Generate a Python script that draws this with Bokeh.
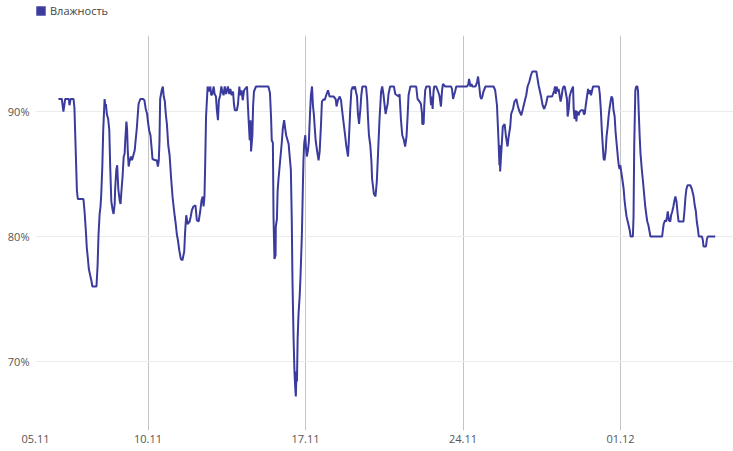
from bokeh.plotting import figure
from bokeh.layouts import column
from bokeh.models import (Range1d, FixedTicker, Legend, LegendItem, ColumnDataSource)
from bokeh.embed import file_html
from bokeh.resources import INLINE

# ---- data: time in days of November (01.12 = day 31), relative humidity in % ----
days = [
    6.02, 6.17, 6.24, 6.32, 6.48, 6.51, 6.56, 6.69, 6.73, 6.76, 6.81, 6.84, 6.88, 7.13, 7.18,
    7.24, 7.28, 7.33, 7.37, 7.43, 7.48, 7.53, 7.71, 7.76, 7.80, 7.85, 7.89, 7.92, 7.97, 8.01,
    8.07, 8.11, 8.13, 8.17, 8.23, 8.28, 8.32, 8.37, 8.43, 8.47, 8.52, 8.54, 8.59, 8.63, 8.68,
    8.74, 8.78, 8.81, 8.87, 8.92, 8.96, 8.99, 9.04, 9.07, 9.10, 9.14, 9.18, 9.24, 9.29, 9.35,
    9.41, 9.45, 9.50, 9.54, 9.58, 9.66, 9.78, 9.84, 9.90, 9.96, 9.99, 10.05, 10.11, 10.15, 10.20,
    10.32, 10.39, 10.44, 10.48, 10.51, 10.54, 10.61, 10.66, 10.70, 10.75, 10.79, 10.84, 10.90, 10.96, 11.03,
    11.09, 11.15, 11.19, 11.24, 11.28, 11.33, 11.39, 11.46, 11.53, 11.61, 11.65, 11.70, 11.76, 11.85, 11.90,
    11.95, 12.02, 12.11, 12.17, 12.25, 12.32, 12.38, 12.43, 12.47, 12.51, 12.54, 12.58, 12.65, 12.72, 12.77,
    12.81, 12.86, 12.92, 12.96, 13.02, 13.06, 13.11, 13.15, 13.21, 13.26, 13.30, 13.36, 13.41, 13.47, 13.51,
    13.55, 13.61, 13.66, 13.72, 13.78, 13.82, 13.86, 13.95, 14.00, 14.06, 14.10, 14.16, 14.21, 14.27, 14.40,
    14.47, 14.52, 14.56, 14.58, 14.64, 14.67, 14.71, 14.80, 15.35, 15.42, 15.47, 15.50, 15.55, 15.58, 15.62,
    15.67, 15.68, 15.73, 15.76, 15.80, 15.87, 15.95, 15.99, 16.05, 16.10, 16.14, 16.25, 16.35, 16.39, 16.42,
    16.47, 16.51, 16.54, 16.57, 16.60, 16.62, 16.65, 16.69, 16.74, 16.78, 16.84, 16.88, 16.91, 16.94, 16.99,
    17.02, 17.06, 17.11, 17.15, 17.20, 17.24, 17.29, 17.33, 17.37, 17.45, 17.52, 17.58, 17.63, 17.69, 17.73,
    17.81, 17.85, 17.92, 18.00, 18.07, 18.25, 18.34, 18.38, 18.44, 18.52, 18.58, 18.62, 18.70, 18.76, 18.81,
    18.89, 18.93, 18.99, 19.04, 19.10, 19.14, 19.20, 19.24, 19.29, 19.33, 19.38, 19.44, 19.48, 19.53, 19.69,
    19.74, 19.78, 19.82, 19.88, 19.93, 19.96, 20.04, 20.11, 20.17, 20.23, 20.29, 20.36, 20.41, 20.47, 20.51,
    20.56, 20.60, 20.65, 20.69, 20.76, 20.93, 20.99, 21.14, 21.18, 21.24, 21.30, 21.36, 21.43, 21.49, 21.54,
    21.58, 21.66, 21.92, 21.98, 22.07, 22.13, 22.18, 22.19, 22.25, 22.28, 22.32, 22.37, 22.52, 22.55, 22.58,
    22.61, 22.65, 22.69, 22.72, 22.81, 22.87, 22.95, 22.99, 23.02, 23.07, 23.11, 23.21, 23.47, 23.51, 23.56,
    23.60, 23.65, 23.70, 24.18, 24.24, 24.27, 24.33, 24.37, 24.42, 24.55, 24.60, 24.63, 24.67, 24.71, 24.77,
    24.82, 24.86, 24.91, 25.00, 25.36, 25.43, 25.51, 25.58, 25.62, 25.64, 25.65, 25.77, 25.85, 25.91, 25.98,
    26.03, 26.10, 26.14, 26.22, 26.29, 26.37, 26.43, 26.49, 26.59, 26.66, 26.74, 26.81, 26.87, 26.95, 27.02,
    27.08, 27.26, 27.36, 27.47, 27.54, 27.61, 27.69, 27.76, 27.96, 28.06, 28.09, 28.12, 28.16, 28.21, 28.25,
    28.30, 28.34, 28.39, 28.43, 28.47, 28.52, 28.56, 28.62, 28.65, 28.70, 28.74, 28.80, 28.85, 28.89, 28.92,
    28.96, 29.01, 29.04, 29.07, 29.14, 29.19, 29.25, 29.34, 29.37, 29.41, 29.45, 29.51, 29.56, 29.60, 29.65,
    29.69, 29.74, 29.78, 30.04, 30.08, 30.13, 30.17, 30.20, 30.25, 30.29, 30.34, 30.38, 30.43, 30.47, 30.51,
    30.56, 30.60, 30.65, 30.69, 30.74, 30.78, 30.84, 30.89, 30.93, 30.96, 30.99, 31.03, 31.08, 31.14, 31.18,
    31.23, 31.27, 31.32, 31.36, 31.41, 31.45, 31.55, 31.58, 31.61, 31.66, 31.70, 31.75, 31.78, 31.81, 31.85,
    31.89, 31.95, 32.00, 32.06, 32.10, 32.15, 32.19, 32.24, 32.28, 32.33, 32.85, 32.89, 32.92, 32.98, 33.03,
    33.07, 33.10, 33.15, 33.21, 33.25, 33.30, 33.35, 33.40, 33.44, 33.49, 33.53, 33.58, 33.80, 33.84, 33.89,
    33.93, 33.98, 34.10, 34.17, 34.25, 34.29, 34.35, 34.39, 34.44, 34.48, 34.62, 34.66, 34.69, 34.80, 34.84,
    34.88, 35.21,
]
humidity = [
    91, 91, 90, 91, 91, 90.5, 91, 91, 90.3, 88.5, 85.5, 83.7, 83, 83, 82,
    80.4, 79.1, 78.2, 77.4, 76.9, 76.5, 76, 76, 77.7, 80.1, 81.8, 82.4, 83.3, 85.6, 88.5,
    91, 90.4, 90.6, 89.8, 89.4, 88.5, 85.6, 82.8, 82.1, 81.8, 82.6, 83.8, 85.3, 85.7, 83.8,
    82.9, 82.6, 83.4, 84.8, 86.4, 86.6, 87.7, 89.2, 88.6, 86.9, 85.6, 86, 86.4, 86.1, 86.5,
    86.9, 87.7, 88.6, 89.6, 90.6, 91, 91, 90.9, 90.2, 89.8, 89.3, 88.5, 88.1, 87.3, 86.2,
    86.1, 86.1, 85.6, 86.1, 87.6, 91, 91.7, 92, 91.2, 90.8, 89.8, 89, 87.3, 86.5, 84.6,
    83.2, 82.2, 81.6, 80.9, 80.2, 79.7, 78.9, 78.2, 78.1, 78.8, 80.4, 81.7, 81, 81.2, 81.6,
    82.1, 82.4, 82.5, 81.3, 81.2, 82, 82.9, 83.2, 82.4, 83.2, 85.6, 89.6, 92, 91.6, 92,
    91.3, 91.4, 92, 91.4, 91.2, 90.1, 89.3, 90.9, 91.3, 92, 91.6, 91.3, 92, 91.4, 91.7,
    92, 91.4, 91.8, 91.3, 91.6, 90.6, 90.1, 90.1, 90.6, 92, 91.3, 91.7, 90.9, 91.7, 92,
    89.4, 87.7, 89.3, 86.8, 88.1, 90.4, 91.6, 92, 92, 91.5, 89.5, 87.7, 87.5, 81.4, 78.2,
    78.5, 80.8, 81.4, 83.6, 84.6, 86, 87.6, 88.6, 89.3, 88.6, 88.1, 87.4, 85.3, 81.3, 76.6,
    71.8, 69.2, 68, 67.2, 69.2, 68.4, 71.8, 73.8, 75.2, 76.9, 80.2, 83.7, 86.1, 87.4, 88.1,
    87.2, 86.4, 86.9, 87.6, 89.8, 91.3, 92, 90.5, 89.8, 87.7, 86.8, 86.1, 86.8, 89, 90.8,
    91, 90.9, 91.3, 91.7, 91.2, 91.2, 91, 90.4, 90.9, 91.2, 90.9, 90.2, 89, 88.1, 87.3,
    86.4, 87.8, 90.2, 91.7, 92, 91.8, 92, 91.6, 91.2, 89.8, 89, 90.2, 91.3, 92, 92,
    91, 89.4, 88.1, 87.3, 86, 84.6, 83.4, 83.2, 84.4, 86.9, 89.4, 91.6, 92, 91.3, 90.6,
    89.8, 90.2, 90.6, 91.4, 92, 92, 91.4, 91.2, 91.4, 89.4, 88.1, 87.8, 87.2, 88, 89.7,
    91.3, 92, 92, 91, 90.8, 90.6, 89.8, 89, 89, 90.5, 91.7, 92, 92, 91.2, 90.5,
    91.2, 90.2, 91.6, 92, 92, 91.7, 91.3, 90.8, 90.4, 91.7, 92.2, 92, 92, 91.8, 91,
    91.3, 91.6, 92, 92, 92.2, 92.6, 92, 92.2, 92, 92, 92.2, 92.4, 92.8, 92.2, 91.2,
    91, 91.2, 91.6, 92, 92, 91.7, 90.5, 87.6, 85.7, 87.3, 85.2, 88.8, 89, 88, 87.2,
    88, 88.8, 89.8, 90.2, 90.8, 91, 90.5, 90.1, 89.7, 90.2, 90.8, 91.3, 92, 92.4, 92.9,
    93.2, 93.2, 92.1, 91.2, 90.5, 90.2, 90.6, 91.2, 91.2, 91.7, 92, 91.4, 92, 91.6, 91.8,
    91.2, 90.8, 91.3, 91.8, 92, 92, 91.6, 91, 89.6, 90.2, 91.2, 91.6, 91.8, 92, 90.2,
    89.4, 90.1, 89.2, 90, 89.7, 90, 90.1, 90.1, 89.8, 89.8, 90.4, 91.2, 91.8, 91.4, 91.7,
    91.3, 91.7, 92, 92, 91.4, 90, 88.5, 87.6, 86.2, 86.1, 86.8, 88, 88.8, 89.6, 90.2,
    90.8, 91.2, 91, 90.1, 89.6, 88.4, 87.2, 86.2, 85.6, 85.4, 85.7, 85.2, 84.6, 83.8, 82.9,
    82.1, 81.6, 81.2, 80.9, 80.5, 80, 80, 81.6, 87.3, 91.7, 92, 92, 91.6, 90, 88.1,
    86.6, 85.3, 84.4, 83.2, 82.4, 81.7, 81.2, 80.9, 80.5, 80, 80, 80.6, 81, 81.3, 81.2,
    81.6, 82, 81.3, 81.2, 81.7, 82, 82.4, 82.9, 83.2, 82.8, 82, 81.2, 81.2, 82, 83.2,
    83.8, 84.1, 84.1, 83.8, 83.2, 82.6, 82, 81.2, 80.6, 80, 80, 79.7, 79.2, 79.2, 79.8,
    80, 80,
]

series_name = "Влажность"
x_tick_values = [5, 10, 17, 24, 31]
x_tick_labels = ["05.11", "10.11", "17.11", "24.11", "01.12"]
y_tick_values = [70, 80, 90]
y_tick_labels = ["70%", "80%", "90%"]

LINE = "#3b3b9e"
FONT = "Open Sans"
LEFT, TOP = 35, 35
FRAME_W, FRAME_H = 733 - LEFT, 395
NAN = float("nan")

# ---------- header strip holding the legend ----------
head = figure(width=733, height=TOP, output_backend="svg", toolbar_location=None,
              x_axis_type=None, y_axis_type=None, x_range=Range1d(0, 1), y_range=Range1d(0, 1),
              min_border=0, min_border_left=LEFT, min_border_right=0,
              min_border_top=0, min_border_bottom=0)
head.outline_line_color = None
head.grid.visible = False
head.background_fill_color = "white"
head.border_fill_color = "white"
# legend swatch proxy (NaN data: draws nothing itself)
swatch = head.quad(left=[NAN], right=[NAN], top=[NAN], bottom=[NAN],
                   fill_color=LINE, line_color="#6a6ab4")
legend = Legend(items=[LegendItem(label=series_name, renderers=[swatch], index=0)],
                location=(0, TOP - 18), orientation="horizontal",
                glyph_width=11, glyph_height=11, label_height=11,
                label_text_font=FONT, label_text_font_size="11px",
                label_text_color="#444444", label_standoff=4,
                padding=0, margin=0, spacing=0,
                border_line_color=None, background_fill_alpha=0)
head.add_layout(legend)

# ---------- main chart ----------
p = figure(frame_width=FRAME_W, frame_height=FRAME_H, output_backend="svg", toolbar_location=None,
           x_range=Range1d(5, 5 + FRAME_W / 22.5), y_range=Range1d(96.08 - FRAME_H / 12.5, 96.08),
           min_border_left=LEFT, min_border_top=0, min_border_right=0, min_border_bottom=0)
p.outline_line_color = None
p.background_fill_color = "white"
p.border_fill_color = "white"

src = ColumnDataSource(dict(x=days, y=humidity))
p.line("x", "y", source=src, line_color=LINE, line_width=2)

for ax in (p.xaxis[0], p.yaxis[0]):
    ax.axis_line_color = None
    ax.major_tick_line_color = None
    ax.minor_tick_line_color = None
    ax.major_tick_out = 0
    ax.major_tick_in = 0
    ax.major_label_text_font = FONT
    ax.major_label_text_font_size = "11px"
    ax.major_label_text_color = "#555555"

p.xaxis.ticker = FixedTicker(ticks=x_tick_values)
p.xaxis.major_label_overrides = dict(zip(x_tick_values, x_tick_labels))
p.xaxis.major_label_standoff = 4
p.yaxis.ticker = FixedTicker(ticks=y_tick_values)
p.yaxis.major_label_overrides = dict(zip(y_tick_values, y_tick_labels))
p.yaxis.major_label_standoff = 6

p.xgrid.ticker = FixedTicker(ticks=x_tick_values)
p.xgrid.grid_line_color = "#c4c4c4"
p.xgrid.grid_line_width = 1
p.ygrid.ticker = FixedTicker(ticks=y_tick_values)
p.ygrid.grid_line_color = "#ebebeb"
p.ygrid.grid_line_width = 1

layout = column(head, p, spacing=0)
open("out.html", "w").write(file_html(layout, INLINE))
